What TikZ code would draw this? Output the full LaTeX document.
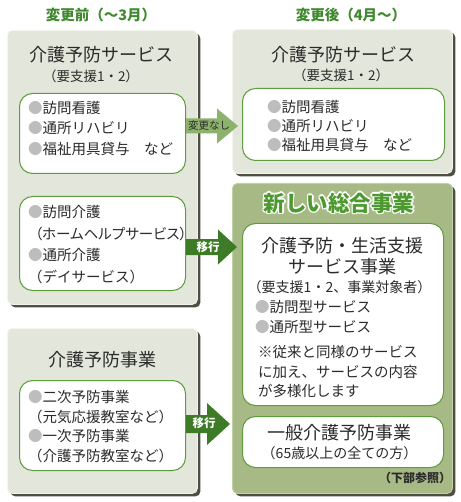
\documentclass[tikz,border=0pt]{standalone}
\usepackage{fontspec}
\setmainfont{Noto Sans CJK JP}
\usetikzlibrary{calc,shadows}
\definecolor{hdrgreen}{HTML}{3F8A2E}
\definecolor{boxfill}{HTML}{E3E6DA}
\definecolor{boxedge}{HTML}{F4F5EE}
\definecolor{shadowc}{HTML}{4E4E42}
\definecolor{bigfill}{HTML}{A7BA85}
\definecolor{bigedge}{HTML}{C3D1A6}
\definecolor{ingreen}{HTML}{5E9C3E}
\definecolor{textc}{HTML}{2B2B2B}
\definecolor{bulc}{HTML}{BDBDBD}
\definecolor{arrlightc}{HTML}{8DB26C}
\definecolor{arrdarkc}{HTML}{3E7B26}
\definecolor{titlegreen}{HTML}{4C9A2E}
\newcommand\fsz[2]{\fontsize{#1}{#2}\selectfont}
\newcommand\bu{{\color{bulc}●}}
\newcommand\kp[1]{{\addfontfeatures{RawFeature=+palt}#1}}
\newcommand\blockarr[6]{%
  \fill[#1] ($(#2)+(0,-#4)$) -- ($(#3)+(-#6,-#4)$) -- ($(#3)+(-#6,-#5)$) -- (#3)
    -- ($(#3)+(-#6,#5)$) -- ($(#3)+(-#6,#4)$) -- ($(#2)+(0,#4)$) -- cycle;}
\newcommand\outltext[6]{%
  \foreach \ang in {0,45,...,315}{\node[#3,text=#4] at ($(#2)+(\ang:#5)$) {#6};}
  \node[#3] (#1) at (#2) {#6};}
\begin{document}
\begin{tikzpicture}[x=1pt,y=-1pt,
  outerbox/.style={draw=boxedge, line width=0.8pt, fill=boxfill, rounded corners=5pt, inner sep=0pt, anchor=north west, general shadow={fill=shadowc, shadow xshift=3pt, shadow yshift=-3pt}},
  bigbox/.style={outerbox, fill=bigfill, draw=bigedge},
  innerbox/.style={draw=ingreen, line width=1pt, fill=white, rounded corners=13pt, inner sep=0pt, anchor=north west},
  txt/.style={text=textc, inner sep=0pt, outer sep=0pt},
  items/.style={txt, align=left, anchor=base west, font=\fsz{14.5}{#1}}]
\fill[white] (0,0) rectangle (460,502);
\useasboundingbox (0,0) rectangle (460,502);
% headers
\node[txt, text=hdrgreen, font=\bfseries\fsz{14.5}{16}] (hL) at (101,15) {変更前（～3月）};
\node[txt, text=hdrgreen, font=\bfseries\fsz{14.5}{16}] (hR) at (351,15) {変更後（4月～）};
% outer boxes
\node[outerbox, minimum width=190pt, minimum height=274pt] (L1) at (7,30) {};
\node[outerbox, minimum width=190pt, minimum height=165pt] (L2) at (7,328) {};
\node[outerbox, minimum width=220pt, minimum height=144pt] (R1) at (232,29) {};
\node[bigbox, minimum width=220pt, minimum height=310pt] (R2) at (232,183) {};
% inner boxes
\node[innerbox, minimum width=166pt, minimum height=80pt] (L1a) at (19,93) {};
\node[innerbox, minimum width=166pt, minimum height=94pt] (L1b) at (19,196) {};
\node[innerbox, minimum width=166pt, minimum height=90pt] (L2a) at (19,380) {};
\node[innerbox, minimum width=202pt, minimum height=72pt] (R1a) at (242,88) {};
\node[innerbox, minimum width=201pt, minimum height=182pt] (R2a) at (242,223) {};
\node[innerbox, minimum width=201pt, minimum height=51pt] (R2b) at (242,416) {};
% titles
\node[txt, font=\fsz{18}{20}] (L1t) at (101.5,55) {介護予防サービス};
\node[txt, font=\fsz{13.5}{16}] (L1s) at (91,76) {（要支援1・2）};
\node[txt, font=\fsz{18}{20}] (R1t) at (343,55) {介護予防サービス};
\node[txt, font=\fsz{13.5}{16}] (R1s) at (341,75) {（要支援1・2）};
\node[txt, font=\fsz{18}{20}] (L2t) at (102.5,360) {介護予防事業};
% item lists (anchor = baseline of the last line)
\node[items=20.5] (L1ai) at (28,154.5) {\bu 訪問看護\\\bu 通所リハビリ\\\bu 福祉用具貸与　など};
\node[items=21.5] (L1bi) at (28,282) {\bu 訪問介護\\\hspace*{7pt}\kp{（ホームヘルプサービス）}\\\bu 通所介護\\（デイサービス）};
\node[items=19.5] (L2ai) at (28,461) {\bu 二次予防事業\\（元気応援教室など）\\\bu 一次予防事業\\（介護予防教室など）};
\node[items=19] (R1ai) at (267,150.5) {\bu 訪問看護\\\bu 通所リハビリ\\\bu 福祉用具貸与　など};
% new comprehensive program
\outltext{R2t}{339,203}{txt, text=titlegreen, font=\bfseries\fsz{21.5}{24}}{white}{1.6}{新しい総合事業}
\node[txt, align=center, font=\fsz{18}{21}] (R2h) at (342,256.5) {介護予防・生活支援\\サービス事業};
\node[txt, font=\fsz{14}{16}] (R2s) at (339.5,287) {（要支援1・2、事業対象者）};
\node[items=20] (R2i) at (255,332.5) {\bu 訪問型サービス\\\bu 通所型サービス};
\node[items=19.5] (R2n) at (258,396.5) {※従来と同様のサービス\\に加え、サービスの内容\\が多様化します};
\node[txt, font=\fsz{18}{20}] (R2bt) at (339.5,433) {一般介護予防事業};
\node[txt, font=\fsz{14}{16}] (R2bs) at (339.5,453) {（65歳以上の全ての方）};
\node[txt, font=\bfseries\fsz{12}{14}] (R2ref) at (415,478) {（下部参照）};
% arrows
\coordinate (y1) at (0,126);
\coordinate (y2) at (0,247);
\coordinate (y3) at (0,424);
\coordinate (a1s) at (L1a.east |- y1);
\coordinate (a1t) at ($(R1a.west |- y1)+(-4,0)$);
\coordinate (a2s) at (L1b.east |- y2);
\coordinate (a2t) at ($(R2a.west |- y2)+(-5,0)$);
\coordinate (a3s) at (L2a.east |- y3);
\coordinate (a3t) at ($(R2.west |- y3)+(-2,0)$);
\blockarr{arrlightc}{a1s}{a1t}{7.5}{17.5}{21}
\blockarr{arrdarkc}{a2s}{a2t}{8}{17.5}{19}
\blockarr{arrdarkc}{a3s}{a3t}{9}{21}{23}
\node[txt, font=\fsz{10.5}{12}] (a1l) at (209,126) {変更なし};
\node[txt, text=white, font=\bfseries\fsz{11.5}{13}] (a2l) at (208,247) {移行};
\node[txt, text=white, font=\bfseries\fsz{11.5}{13}] (a3l) at (204,423) {移行};
\end{tikzpicture}
\end{document}
